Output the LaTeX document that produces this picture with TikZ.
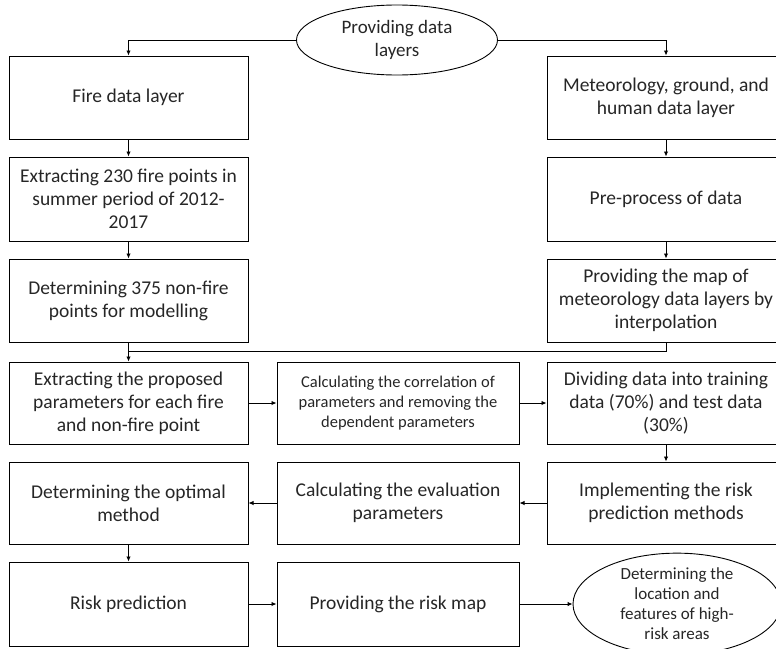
\documentclass[tikz,border=0pt]{standalone}
\usepackage{fontspec}
\setmainfont{Carlito}
\usetikzlibrary{calc,shapes.geometric,arrows.meta}
\newcommand{\mainsize}{\fontsize{19.5}{23}\selectfont}
\tikzset{
	box/.style={draw, line width=1pt, rectangle, align=center, inner sep=2pt, text=black!85, font=\mainsize},
	oval/.style={draw, line width=0.9pt, ellipse, align=center, inner sep=0pt, text=black!85},
	flow/.style={line width=0.9pt, -{Latex[length=5pt,width=4.5pt]}}
}

\begin{document}
\begin{tikzpicture}[x=1pt,y=-1pt]
	\useasboundingbox (0,0) rectangle (776,648);

	\node[oval, minimum width=201, minimum height=70, font=\fontsize{19}{23}\selectfont] (start) at (397,40) {Providing data\\layers};

	\node[box, minimum width=239, minimum height=83] (fire) at (128.5,97.5) {Fire data layer};
	\node[box, minimum width=238, minimum height=83] (human) at (666,97.5) {Meteorology, ground, and\\human data layer};
	\node[box, minimum width=239, minimum height=84] (extract) at (128.5,199) {Extracting 230 fire points in\\summer period of 2012-\\2017};
	\node[box, minimum width=238, minimum height=84] (preproc) at (666,199) {Pre-process of data};
	\node[box, minimum width=239, minimum height=83] (nonfire) at (128.5,300.5) {Determining 375 non-fire\\points for modelling};
	\node[box, minimum width=238, minimum height=83] (interp) at (666,300.5) {Providing the map of\\meteorology data layers by\\interpolation};

	\node[box, minimum width=239, minimum height=82] (params) at (128.5,403) {Extracting the proposed\\parameters for each fire\\and non-fire point};
	\node[box, minimum width=242, minimum height=82, font=\fontsize{16.5}{20}\selectfont] (corr) at (398,403) {Calculating the correlation of\\parameters and removing the\\dependent parameters};
	\node[box, minimum width=238, minimum height=82] (split) at (666,403) {Dividing data into training\\data (70\%) and test data\\(30\%)};

	\node[box, minimum width=239, minimum height=82] (optimal) at (128.5,503) {Determining the optimal\\method};
	\node[box, minimum width=242, minimum height=82] (evaluate) at (398,503) {Calculating the evaluation\\parameters};
	\node[box, minimum width=238, minimum height=82] (methods) at (666,503) {Implementing the risk\\prediction methods};

	\node[box, minimum width=239, minimum height=84] (riskpred) at (128.5,604) {Risk prediction};
	\node[box, minimum width=242, minimum height=84] (riskmap) at (398,604) {Providing the risk map};
	\node[oval, minimum width=208, minimum height=86, font=\fontsize{17}{20}\selectfont] (areas) at (677,604) {Determining the\\location and\\features of high-\\risk areas};

	\coordinate (join) at ($(nonfire.south)!0.45!(params.north)$);

	\draw[flow] (start.west) -| (fire.north);
	\draw[flow] (start.east) -| (human.north);
	\draw[flow] (fire) -- (extract);
	\draw[flow] (extract) -- (nonfire);
	\draw[flow] (human) -- (preproc);
	\draw[flow] (preproc) -- (interp);
	\draw[line width=0.9pt] (interp.south) |- (join);
	\draw[flow] (nonfire) -- (params);
	\draw[flow] (params) -- (corr);
	\draw[flow] (corr) -- (split);
	\draw[flow] (split) -- (methods);
	\draw[flow] (methods) -- (evaluate);
	\draw[flow] (evaluate) -- (optimal);
	\draw[flow] (optimal) -- (riskpred);
	\draw[flow] (riskpred) -- (riskmap);
	\draw[flow] (riskmap.east) -- (areas.west);
\end{tikzpicture}
\end{document}
